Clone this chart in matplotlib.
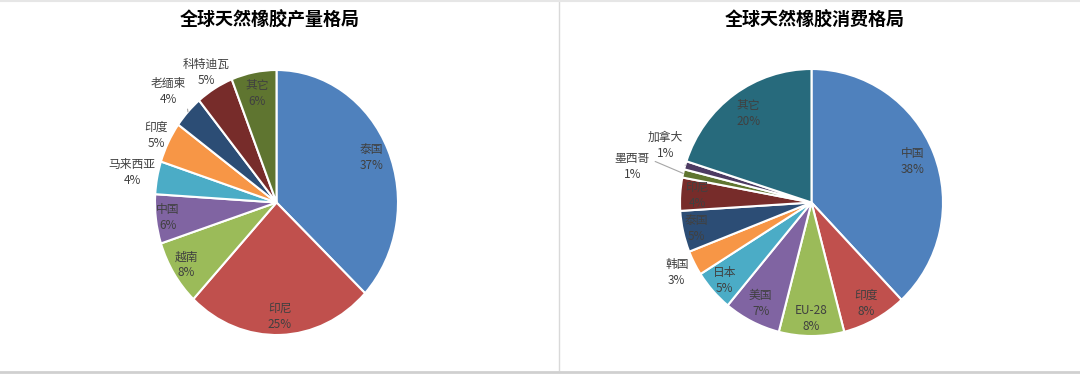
import numpy as np
import matplotlib.pyplot as plt
from matplotlib.lines import Line2D

plt.rcParams['font.family'] = ['Noto Sans CJK SC', 'DejaVu Sans']

# production share (clockwise from 12 o'clock)
prod_labels = ["泰国", "印尼", "越南", "中国", "马来西亚", "印度", "老缅柬", "科特迪瓦", "其它"]
prod_values = [37, 25, 8, 6, 4, 5, 4, 5, 6]

# consumption share
cons_labels = ["中国", "印度", "EU-28", "美国", "日本", "韩国", "泰国", "印尼", "墨西哥", "加拿大", "其它"]
cons_values = [38, 8, 8, 7, 5, 3, 5, 4, 1, 1, 20]

prod_colors = ["#4F81BD", "#C0504D", "#9BBB59", "#8064A2", "#4BACC6", "#F79646",
               "#2C4D75", "#772C2A", "#5F7530"]
cons_colors = ["#4F81BD", "#C0504D", "#9BBB59", "#8064A2", "#4BACC6", "#F79646",
               "#2C4D75", "#772C2A", "#5F7530", "#4D3B62", "#276A7C"]

# label radius (in pie radii), angle nudge (deg) and leader-line anchor on the text
prod_lab_r = [0.85, 0.86, 0.88, 0.90, 1.21, 1.11, 1.22, 1.14, 0.84]
prod_nudge = [0] * 9
prod_lead = [None] * 6 + [(1.0, 0.25), None, None]
cons_lab_r = [0.83, 0.86, 0.87, 0.85, 0.88, 1.15, 0.90, 0.87, 1.39, 1.19, 0.82]
cons_nudge = [0] * 8 + [-1.4, 5.0, 0]
cons_lead = [None] * 8 + [(1.0, 0.75), (1.0, 0.25), None]

TXT = "#404040"


def draw_pie(ax, labels, values, colors, lab_r, nudge, lead):
    ax.pie(values, colors=colors, startangle=90, counterclock=False,
           wedgeprops=dict(edgecolor="white", linewidth=1.5))
    ax.set_aspect("auto")
    ax.set_xlim(-1, 1)
    ax.set_ylim(-1, 1)
    ax.axis("off")
    total = float(sum(values))
    cum = 0.0
    for lab, v, r, nd, ld in zip(labels, values, lab_r, nudge, lead):
        mid = (cum + v / 2) / total * 2 * np.pi
        cum += v
        ang = np.pi / 2 - mid
        la = ang - np.radians(nd)
        x, y = r * np.cos(la), r * np.sin(la)
        txt = f"{lab}\n{v}%"
        if ld is not None:
            ax.annotate(txt, xy=(np.cos(ang), np.sin(ang)), xytext=(x, y),
                        ha="center", va="center", fontsize=8.5, color=TXT,
                        linespacing=1.3,
                        arrowprops=dict(arrowstyle="-", color="#A6A6A6", lw=0.8,
                                        relpos=ld, shrinkA=2, shrinkB=0))
        else:
            ax.text(x, y, txt, ha="center", va="center", fontsize=8.5,
                    color=TXT, linespacing=1.3)


fig = plt.figure(figsize=(10.8, 3.74), dpi=100)
W, H = 1080.0, 374.0

ax1 = fig.add_axes([155 / W, 39 / H, 243 / W, 265 / H])
draw_pie(ax1, prod_labels, prod_values, prod_colors, prod_lab_r, prod_nudge, prod_lead)

ax2 = fig.add_axes([680 / W, 38 / H, 263 / W, 267 / H])
draw_pie(ax2, cons_labels, cons_values, cons_colors, cons_lab_r, cons_nudge, cons_lead)

fig.text(270 / W, 1 - 20 / H, "全球天然橡胶产量格局", ha="center", va="center",
         fontsize=13, fontweight="bold", color="#000000")
fig.text(815 / W, 1 - 20 / H, "全球天然橡胶消费格局", ha="center", va="center",
         fontsize=13, fontweight="bold", color="#000000")

# panel frame lines
fig.add_artist(Line2D([559 / W, 559 / W], [4 / H, 1], color="#D9D9D9", lw=1))
fig.add_artist(Line2D([0, 1], [1 - 1 / H, 1 - 1 / H], color="#E6E6E6", lw=1.5))
fig.add_artist(Line2D([0, 1], [2 / H, 2 / H], color="#D0D0D0", lw=2))

fig.savefig("out.png", dpi=100, facecolor="white")
